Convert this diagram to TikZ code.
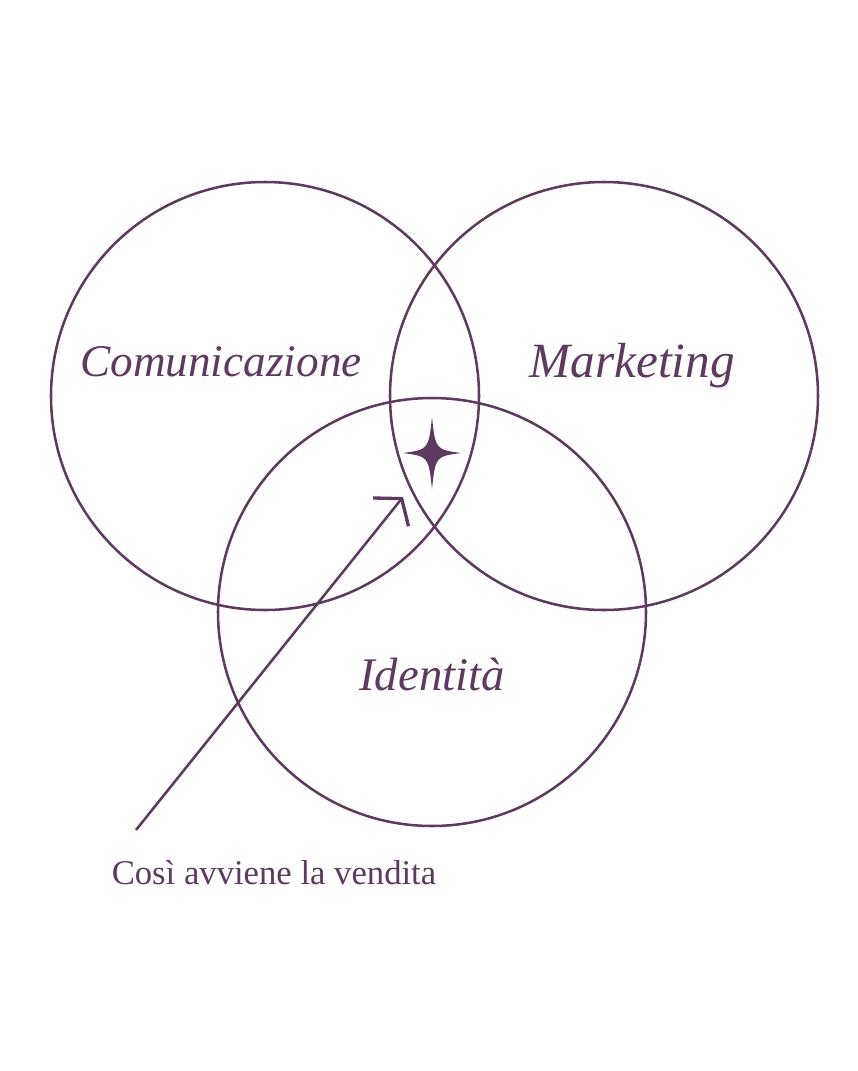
\documentclass[tikz,border=0pt]{standalone}
\usepackage{fontspec}
\setmainfont{Liberation Serif}
\usetikzlibrary{arrows.meta}
\definecolor{prugna}{RGB}{94,57,96}
\tikzset{
  cerchio/.style={draw=prugna, line width=1.9pt},
  etichetta/.style={text=prugna, inner sep=0pt, font=\itshape},
  freccia/.style={draw=prugna, line width=1.9pt,
    -{Straight Barb[length=13pt, width=34pt, line width=2.5pt]}},
}
\begin{document}
\begin{tikzpicture}[x=0.75pt, y=-0.75pt]
    \useasboundingbox (0,0) rectangle (857,1071);

    % centri dei cerchi
    \coordinate (comunicazione) at (265,396);
    \coordinate (marketing) at (604,396);
    \coordinate (identita) at (432,612);

    % cerchi
    \draw[cerchio] (comunicazione) circle[radius=160.5pt];
    \draw[cerchio] (marketing) circle[radius=160.5pt];
    \draw[cerchio] (identita) circle[radius=160.5pt];

    % etichette
    \node[etichetta] (lab-comunicazione) at (221,362) {\resizebox{211pt}{!}{Comunicazione}};
    \node[etichetta] (lab-marketing) at (632,366) {\resizebox{154pt}{!}{Marketing}};
    \node[etichetta] (lab-identita) at (432,674) {\resizebox{109pt}{!}{Identità}};

    % stella al centro
    \fill[prugna, shift={(432,453)}] (0,-36) .. controls (3.5,-3.5) .. (29,0)
        .. controls (3.5,3.5) .. (0,36) .. controls (-3.5,3.5) .. (-29,0)
        .. controls (-3.5,-3.5) .. cycle;

    % freccia
    \coordinate (partenza) at (136,830);
    \coordinate (punta) at (403,497);
    \draw[freccia] (partenza) -- (punta);

    \node[text=prugna, anchor=base, inner sep=0pt, font=\fontsize{26}{30}\selectfont]
        (vendita) at (274,884) {Così avviene la vendita};
\end{tikzpicture}
\end{document}
